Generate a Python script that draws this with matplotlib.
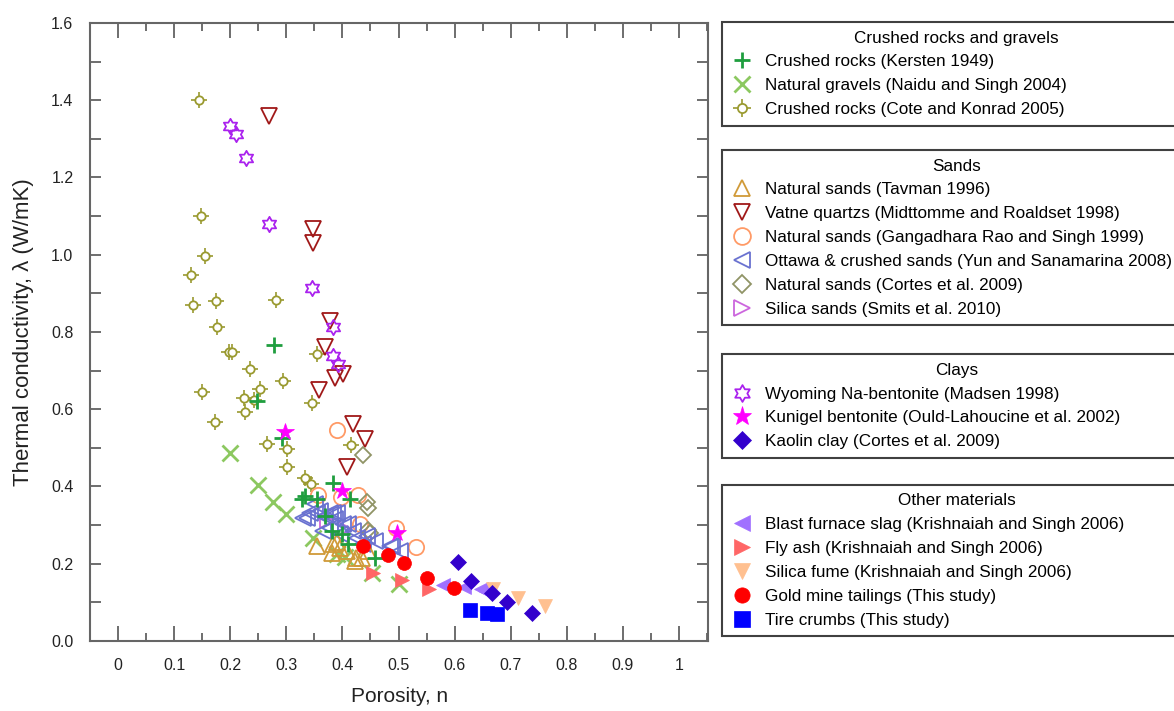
import numpy as np
import matplotlib
matplotlib.use("Agg")
import matplotlib.pyplot as plt
from matplotlib.path import Path
from matplotlib.legend_handler import HandlerTuple

plt.rcParams['font.family'] = ['Liberation Sans', 'DejaVu Sans']

# ---- data (porosity, thermal conductivity) ----
kersten_n = [0.278, 0.247, 0.292, 0.383, 0.328, 0.333, 0.355, 0.414, 0.369, 0.381, 0.400, 0.410, 0.458]
kersten_k = [0.767, 0.620, 0.526, 0.410, 0.367, 0.376, 0.368, 0.367, 0.323, 0.285, 0.277, 0.250, 0.215]

naidu_n = [0.200, 0.250, 0.277, 0.300, 0.347, 0.390, 0.405, 0.452, 0.500]
naidu_k = [0.487, 0.404, 0.360, 0.330, 0.267, 0.225, 0.218, 0.176, 0.147]

cote_n = [0.144, 0.148, 0.155, 0.130, 0.133, 0.175, 0.281, 0.177, 0.198, 0.203, 0.235, 0.294,
          0.150, 0.253, 0.224, 0.243, 0.226, 0.173, 0.355, 0.346, 0.266, 0.301, 0.301, 0.333,
          0.344, 0.415]
cote_k = [1.400, 1.100, 0.997, 0.948, 0.870, 0.879, 0.884, 0.814, 0.749, 0.749, 0.705, 0.674,
          0.645, 0.652, 0.630, 0.624, 0.594, 0.568, 0.743, 0.616, 0.510, 0.498, 0.450, 0.422,
          0.406, 0.507]

tavman_n = [0.355, 0.383, 0.381, 0.390, 0.396, 0.408, 0.422, 0.425, 0.435, 0.446]
tavman_k = [0.246, 0.250, 0.228, 0.256, 0.241, 0.233, 0.207, 0.215, 0.215, 0.233]

vatne_n = [0.269, 0.348, 0.348, 0.378, 0.369, 0.387, 0.401, 0.358, 0.419, 0.440, 0.408]
vatne_k = [1.360, 1.067, 1.030, 0.829, 0.761, 0.681, 0.690, 0.650, 0.561, 0.523, 0.450]

rao_n = [0.390, 0.357, 0.397, 0.428, 0.431, 0.495, 0.531]
rao_k = [0.546, 0.377, 0.373, 0.378, 0.303, 0.293, 0.243]

yun_n = [0.330, 0.336, 0.342, 0.351, 0.355, 0.360, 0.369, 0.378, 0.383, 0.390, 0.387, 0.401,
         0.410, 0.366, 0.378, 0.396, 0.419, 0.426, 0.444, 0.437, 0.458, 0.485, 0.488, 0.503]
yun_k = [0.319, 0.319, 0.332, 0.354, 0.332, 0.336, 0.323, 0.332, 0.332, 0.332, 0.315, 0.303,
         0.303, 0.285, 0.293, 0.277, 0.285, 0.267, 0.272, 0.250, 0.259, 0.246, 0.246, 0.233]

cortes_n = [0.437, 0.443, 0.446, 0.446, 0.449]
cortes_k = [0.482, 0.360, 0.344, 0.287, 0.280]

smits_n = [0.372, 0.405]
smits_k = [0.310, 0.290]

madsen_n = [0.200, 0.210, 0.228, 0.269, 0.346, 0.383, 0.383, 0.392]
madsen_k = [1.333, 1.312, 1.250, 1.079, 0.913, 0.812, 0.738, 0.717]

kunigel_n = [0.298, 0.399, 0.497]
kunigel_k = [0.540, 0.388, 0.280]

kaolin_n = [0.606, 0.629, 0.666, 0.693, 0.738]
kaolin_k = [0.204, 0.155, 0.124, 0.100, 0.073]

slag_n = [0.579, 0.617, 0.647, 0.655]
slag_k = [0.145, 0.140, 0.135, 0.130]

flyash_n = [0.455, 0.506, 0.555]
flyash_k = [0.176, 0.158, 0.135]

fume_n = [0.669, 0.713, 0.761]
fume_k = [0.135, 0.112, 0.090]

gold_n = [0.436, 0.482, 0.510, 0.550, 0.598]
gold_k = [0.246, 0.223, 0.202, 0.164, 0.138]

tire_n = [0.627, 0.658, 0.675]
tire_k = [0.080, 0.073, 0.071]

x_ticks = [0, 0.1, 0.2, 0.3, 0.4, 0.5, 0.6, 0.7, 0.8, 0.9, 1]
x_tick_labels = ['0', '0.1', '0.2', '0.3', '0.4', '0.5', '0.6', '0.7', '0.8', '0.9', '1']
y_ticks = [0.0, 0.2, 0.4, 0.6, 0.8, 1.0, 1.2, 1.4, 1.6]


def hexagram():
    # outline of a six pointed star
    verts = []
    for i in range(12):
        a = np.radians(90 + 30 * i)
        r = 1.0 if i % 2 == 0 else 1 / np.sqrt(3)
        verts.append((r * np.cos(a), r * np.sin(a)))
    verts.append(verts[0])
    return Path(verts, closed=True)


def open_pts(ax, n, k, marker, color, ms=10, mew=1.3):
    line, = ax.plot(n, k, linestyle='none', marker=marker, ms=ms,
                    mfc='none', mec=color, mew=mew)
    return line


def filled_pts(ax, n, k, marker, color, ms=10):
    line, = ax.plot(n, k, linestyle='none', marker=marker, ms=ms,
                    mfc=color, mec=color, mew=0.5)
    return line


def add_group(fig, handles, labels, title, top):
    leg = fig.legend(handles, labels, title=title, loc='upper left',
                     bbox_to_anchor=(0.615, top, 0.40, 0), mode='expand',
                     fontsize=12.3, title_fontsize=12.3, frameon=True,
                     fancybox=False, edgecolor='#404040', framealpha=1,
                     borderpad=0.5, labelspacing=0.52, handlelength=1.3,
                     handletextpad=0.7, borderaxespad=0.0, markerscale=1.1,
                     handler_map={tuple: HandlerTuple(ndivide=1)})
    leg.get_frame().set_linewidth(1.5)
    return leg


fig = plt.figure(figsize=(11.74, 7.11), dpi=100)
ax = fig.add_axes([0.0767, 0.0985, 0.5265, 0.8692])

h_smits = open_pts(ax, smits_n, smits_k, '>', '#cc66dd')
h_cote_p = open_pts(ax, cote_n, cote_k, '+', '#9a9a30', ms=12, mew=1.2)
h_cote_o = ax.plot(cote_n, cote_k, linestyle='none', marker='o', ms=6,
                   mfc='white', mec='#9a9a30', mew=1.3)[0]
h_naidu = open_pts(ax, naidu_n, naidu_k, 'x', '#8cc860', ms=11, mew=2.0)
h_vatne = open_pts(ax, vatne_n, vatne_k, 'v', '#a01818', ms=11)
h_madsen = open_pts(ax, madsen_n, madsen_k, hexagram(), '#aa22ee', ms=11)
h_rao = open_pts(ax, rao_n, rao_k, 'o', '#ff9a66', ms=11)
h_cortes = open_pts(ax, cortes_n, cortes_k, 'D', '#909466', ms=8)
h_yun = open_pts(ax, yun_n, yun_k, '<', '#6a72d0', ms=11)
h_tavman = open_pts(ax, tavman_n, tavman_k, '^', '#d09a38', ms=11)
h_kersten = open_pts(ax, kersten_n, kersten_k, '+', '#1f9e3f', ms=11, mew=2.0)
h_kunigel = filled_pts(ax, kunigel_n, kunigel_k, '*', '#ff00ff', ms=13)
h_slag = filled_pts(ax, slag_n, slag_k, '<', '#a070ff')
h_fume = filled_pts(ax, fume_n, fume_k, 'v', '#ffc090')
h_flyash = filled_pts(ax, flyash_n, flyash_k, '>', '#ff6666')
h_kaolin = filled_pts(ax, kaolin_n, kaolin_k, 'D', '#3300cc', ms=8)
h_gold = filled_pts(ax, gold_n, gold_k, 'o', '#ff0000', ms=10)
h_tire = filled_pts(ax, tire_n, tire_k, 's', '#0000ff', ms=10)

ax.set_xlim(-0.05, 1.052)
ax.set_ylim(0, 1.6)

ax.set_xticks(x_ticks)
ax.set_xticklabels(x_tick_labels)
ax.set_xticks(np.arange(-0.05, 1.06, 0.1), minor=True)
ax.set_yticks(y_ticks)
ax.set_yticklabels(['%.1f' % v for v in y_ticks])
ax.set_yticks(np.arange(0.1, 1.6, 0.2), minor=True)

ax.tick_params(which='both', direction='in', top=True, right=True,
               colors='#555555', labelcolor='#222222', labelsize=11.5, width=1.2)
ax.tick_params(axis='x', which='major', length=11, pad=12)
ax.tick_params(axis='x', which='minor', length=6)
ax.tick_params(axis='y', which='both', length=8, pad=12)
for s in ax.spines.values():
    s.set_color('#666666')
    s.set_linewidth(1.5)

ax.set_xlabel('Porosity, n', fontsize=15, labelpad=10, color='#222222')
ax.set_ylabel('Thermal conductivity, λ (W/mK)', fontsize=16, labelpad=12, color='#222222')

# ---- grouped legends on the right ----
add_group(fig, [h_kersten, h_naidu, (h_cote_p, h_cote_o)],
          ['Crushed rocks (Kersten 1949)',
           'Natural gravels (Naidu and Singh 2004)',
           'Crushed rocks (Cote and Konrad 2005)'],
          'Crushed rocks and gravels', 0.969)
add_group(fig, [h_tavman, h_vatne, h_rao, h_yun, h_cortes, h_smits],
          ['Natural sands (Tavman 1996)',
           'Vatne quartzs (Midttomme and Roaldset 1998)',
           'Natural sands (Gangadhara Rao and Singh 1999)',
           'Ottawa & crushed sands (Yun and Sanamarina 2008)',
           'Natural sands (Cortes et al. 2009)',
           'Silica sands (Smits et al. 2010)'],
          'Sands', 0.789)
add_group(fig, [h_madsen, h_kunigel, h_kaolin],
          ['Wyoming Na-bentonite (Madsen 1998)',
           'Kunigel bentonite (Ould-Lahoucine et al. 2002)',
           'Kaolin clay (Cortes et al. 2009)'],
          'Clays', 0.502)
add_group(fig, [h_slag, h_flyash, h_fume, h_gold, h_tire],
          ['Blast furnace slag (Krishnaiah and Singh 2006)',
           'Fly ash (Krishnaiah and Singh 2006)',
           'Silica fume (Krishnaiah and Singh 2006)',
           'Gold mine tailings (This study)',
           'Tire crumbs (This study)'],
          'Other materials', 0.318)

fig.savefig('out.png', dpi=100)
